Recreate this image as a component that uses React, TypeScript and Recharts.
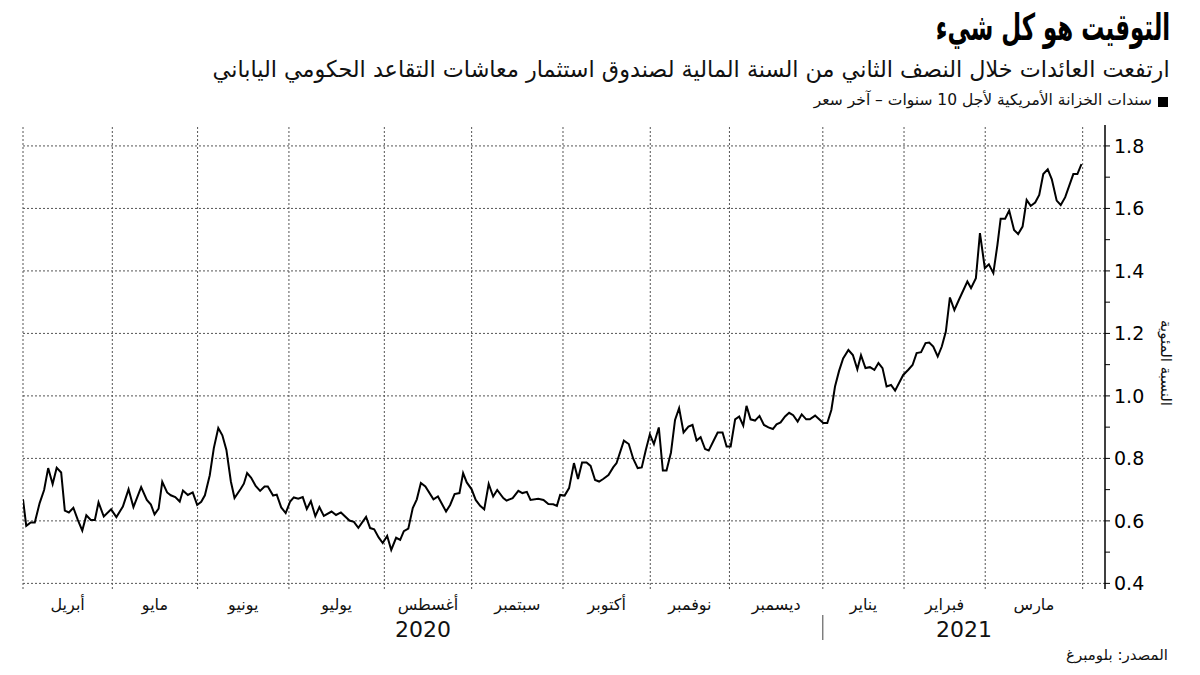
import { LineChart, Line, XAxis, YAxis, CartesianGrid, ReferenceLine } from 'recharts'

// x = weekday index counted from 1 April 2020
const monthStarts = [0, 22, 43, 65.5, 89, 110.5, 133, 154.5, 174, 197, 217, 237, 261]
const monthNames = ['أبريل', 'مايو', 'يونيو', 'يوليو', 'أغسطس', 'سبتمبر', 'أكتوبر', 'نوفمبر', 'ديسمبر', 'يناير', 'فبراير', 'مارس']
const yearLabels = ['2020', '2021']
const yearSplit = 197
const xEnd = 266.5

const yTicks = [0.4, 0.6, 0.8, 1.0, 1.2, 1.4, 1.6, 1.8]
const yMinorTicks = [0.5, 0.7, 0.9, 1.1, 1.3, 1.5, 1.7]

const dayIdx = [
  0, 0.8, 1.9, 2.9, 4.1, 5.2, 6.2, 7.3, 8.3, 9.4, 10.3, 11.3, 12.4, 13.5, 14.6, 15.6, 16.7, 17.7, 18.6, 19.9,
  21.7, 23.0, 24.6, 26.0, 27.2, 29.1, 30.5, 31.5, 32.4, 33.4, 34.3, 35.5, 36.4, 37.5, 38.6, 39.4, 40.6, 41.8, 42.9, 43.9,
  44.8, 46.0, 47.0, 48.1, 49.1, 50.1, 51.2, 52.1, 53.6, 54.4, 55.2, 56.2, 57.3, 58.4, 59.5, 60.3, 61.6, 62.5, 63.6, 64.7,
  65.8, 66.7, 67.8, 68.9, 69.9, 70.9, 72.0, 73.0, 74.1, 76.0, 77.1, 78.3, 80.4, 81.5, 82.6, 84.5, 85.5, 86.5, 87.6, 88.6,
  89.7, 90.7, 91.9, 92.9, 93.8, 94.9, 96.0, 97.0, 98.0, 99.1, 101.1, 102.2, 104.2, 105.2, 106.3, 107.5, 108.4, 109.3, 110.5, 111.5,
  112.6, 113.6, 114.7, 115.8, 116.8, 118.3, 119.1, 120.6, 122.0, 123.0, 124.1, 125.0, 126.9, 128.2, 129.4, 130.6, 131.5, 132.3, 133.4, 134.5,
  135.7, 136.7, 137.7, 138.8, 139.8, 140.9, 141.9, 142.9, 144.2, 145.4, 146.2, 148.0, 149.2, 150.3, 151.4, 152.4, 153.4, 154.4, 155.4, 156.6,
  157.6, 158.5, 159.6, 160.6, 161.6, 162.7, 163.9, 164.9, 165.9, 166.9, 168.0, 168.9, 170.0, 171.1, 172.3, 173.3, 174.3, 175.4, 176.4, 177.4,
  178.2, 179.2, 180.3, 181.4, 182.5, 183.6, 184.7, 185.6, 186.6, 187.7, 188.7, 189.7, 190.8, 191.8, 192.9, 193.8, 195.1, 196.1, 197.1, 198.1,
  199.1, 200.0, 201.0, 202.0, 203.3, 204.4, 205.5, 206.4, 207.5, 208.6, 209.7, 210.7, 211.7, 212.7, 213.8, 214.8, 216.8, 218.0, 219.1, 220.1,
  221.2, 222.3, 223.2, 224.2, 225.3, 226.3, 227.3, 228.3, 229.4, 230.5, 232.6, 233.5, 234.7, 235.7, 236.9, 237.9, 239.0, 240.0, 240.8, 241.9,
  242.9, 244.1, 245.1, 246.2, 247.2, 248.2, 249.3, 250.3, 251.3, 252.4, 253.4, 254.6, 255.6, 256.7, 258.7, 259.7, 260.7,
]

const yields = [
  0.669, 0.584, 0.595, 0.595, 0.657, 0.699, 0.769, 0.718, 0.770, 0.755, 0.633, 0.627, 0.642, 0.603, 0.569, 0.618, 0.603, 0.603, 0.659, 0.614,
  0.637, 0.612, 0.646, 0.701, 0.644, 0.708, 0.667, 0.652, 0.621, 0.639, 0.725, 0.691, 0.682, 0.676, 0.662, 0.697, 0.683, 0.691, 0.651, 0.661,
  0.682, 0.746, 0.833, 0.897, 0.874, 0.827, 0.726, 0.673, 0.702, 0.719, 0.753, 0.738, 0.712, 0.696, 0.710, 0.710, 0.681, 0.684, 0.643, 0.625,
  0.662, 0.675, 0.671, 0.676, 0.638, 0.663, 0.615, 0.644, 0.616, 0.630, 0.619, 0.627, 0.601, 0.597, 0.578, 0.613, 0.577, 0.573, 0.547, 0.529,
  0.552, 0.507, 0.546, 0.539, 0.567, 0.575, 0.641, 0.669, 0.721, 0.710, 0.669, 0.678, 0.630, 0.651, 0.686, 0.689, 0.753, 0.723, 0.701, 0.667,
  0.648, 0.637, 0.718, 0.678, 0.699, 0.673, 0.665, 0.673, 0.696, 0.689, 0.693, 0.667, 0.671, 0.667, 0.654, 0.653, 0.648, 0.683, 0.681, 0.705,
  0.785, 0.734, 0.787, 0.787, 0.776, 0.731, 0.726, 0.734, 0.747, 0.772, 0.785, 0.857, 0.846, 0.799, 0.769, 0.771, 0.827, 0.877, 0.846, 0.899,
  0.761, 0.761, 0.819, 0.923, 0.961, 0.883, 0.902, 0.907, 0.857, 0.868, 0.830, 0.825, 0.854, 0.883, 0.883, 0.838, 0.838, 0.925, 0.934, 0.905,
  0.968, 0.925, 0.921, 0.936, 0.907, 0.899, 0.894, 0.909, 0.915, 0.934, 0.946, 0.938, 0.918, 0.941, 0.925, 0.925, 0.937, 0.925, 0.913, 0.913,
  0.955, 1.030, 1.080, 1.120, 1.147, 1.131, 1.085, 1.130, 1.089, 1.092, 1.083, 1.105, 1.089, 1.030, 1.035, 1.017, 1.067, 1.083, 1.099, 1.137,
  1.140, 1.169, 1.171, 1.158, 1.126, 1.158, 1.206, 1.315, 1.275, 1.307, 1.366, 1.345, 1.377, 1.521, 1.409, 1.421, 1.393, 1.483, 1.567, 1.567,
  1.593, 1.531, 1.518, 1.542, 1.627, 1.608, 1.619, 1.643, 1.710, 1.725, 1.693, 1.625, 1.611, 1.636, 1.710, 1.710, 1.742,
]

const data = dayIdx.map((d, i) => ({ d, v: yields[i] }))

const monthMids = monthStarts.slice(0, -1).map((s, i) => (s + monthStarts[i + 1]) / 2)
const yearTicks = [yearSplit / 2, yearSplit, (yearSplit + xEnd) / 2]
const allYTicks = [...yTicks, ...yMinorTicks].sort((a, b) => a - b)

const arFont = '"DejaVu Sans", sans-serif'

function YearTick(props: any) {
  const { x, y, payload } = props
  if (payload.value === yearSplit) {
    return <line x1={x} x2={x} y1={y - 4} y2={y + 21} stroke="#444" strokeWidth={1} />
  }
  const label = payload.value < yearSplit ? yearLabels[0] : yearLabels[1]
  return (
    <text x={x} y={y + 18} textAnchor="middle" fontSize={22} fontFamily={arFont} fill="#111">
      {label}
    </text>
  )
}

const NoLabel = () => <g />

export default function App() {
  return (
    <div style={{ position: 'absolute', left: 0, top: 0, width: 1200, height: 675, background: '#fff', fontFamily: arFont }}>
      <div
        style={{
          position: 'absolute', right: 30, top: 6, direction: 'rtl', fontSize: 37, fontWeight: 'bold', color: '#000',
          whiteSpace: 'nowrap', transform: 'scaleX(0.62)', transformOrigin: 'right center',
        }}
      >
        التوقيت هو كل شيء
      </div>
      <div
        style={{
          position: 'absolute', right: 30, top: 56, direction: 'rtl', fontSize: 23, color: '#111', whiteSpace: 'nowrap',
          transform: 'scaleX(0.97)', transformOrigin: 'right center',
        }}
      >
        ارتفعت العائدات خلال النصف الثاني من السنة المالية لصندوق استثمار معاشات التقاعد الحكومي الياباني
      </div>
      <div style={{ position: 'absolute', right: 32, top: 97, width: 10, height: 10, background: '#000' }} />
      <div style={{ position: 'absolute', right: 48, top: 91, direction: 'rtl', fontSize: 15.5, color: '#111', whiteSpace: 'nowrap' }}>
        سندات الخزانة الأمريكية لأجل 10 سنوات – آخر سعر
      </div>
      <div
        style={{
          position: 'absolute', left: 1166, top: 363, direction: 'rtl', fontSize: 15, color: '#111', whiteSpace: 'nowrap',
          transform: 'translate(-50%, -50%) rotate(90deg)',
        }}
      >
        النسبة المئوية
      </div>
      <div style={{ position: 'absolute', right: 32, top: 646, direction: 'rtl', fontSize: 15, color: '#111', whiteSpace: 'nowrap' }}>
        المصدر: بلومبرغ
      </div>

      <div style={{ position: 'absolute', left: 0, top: 0 }}>
        <LineChart width={1200} height={675} data={data} margin={{ top: 125, right: 35, bottom: 26, left: 23 }}>
          <CartesianGrid stroke="#555" strokeDasharray="2 2" horizontalValues={yTicks} vertical={false} />
          {monthStarts.map(m => (
            <ReferenceLine key={m} x={m} xAxisId={0} yAxisId={0} stroke="#555" strokeDasharray="2 2" ifOverflow="extendDomain" />
          ))}
          <XAxis
            xAxisId={0}
            dataKey="d"
            type="number"
            domain={[0, xEnd]}
            allowDataOverflow
            ticks={monthStarts}
            interval={0}
            height={0}
            tick={<NoLabel />}
            tickSize={6}
            tickLine={{ stroke: '#000' }}
            axisLine={{ stroke: '#000', strokeWidth: 1.5 }}
          />
          <XAxis
            xAxisId="months"
            dataKey="d"
            type="number"
            domain={[0, xEnd]}
            allowDataOverflow
            ticks={monthMids}
            interval={0}
            height={30}
            axisLine={false}
            tickLine={false}
            tickSize={6}
            tickMargin={4}
            tickFormatter={(_v: number, i: number) => monthNames[i]}
            tick={{ fontSize: 16, fontFamily: arFont, fill: '#111' }}
          />
          <XAxis
            xAxisId="years"
            dataKey="d"
            type="number"
            domain={[0, xEnd]}
            allowDataOverflow
            ticks={yearTicks}
            interval={0}
            height={30}
            axisLine={false}
            tickLine={false}
            tickSize={0}
            tickMargin={0}
            tick={<YearTick />}
          />
          <YAxis
            yAxisId={0}
            orientation="right"
            type="number"
            domain={[0.382, 1.867]}
            allowDataOverflow
            ticks={allYTicks}
            interval={0}
            width={60}
            tickSize={5}
            tickMargin={4}
            tickFormatter={(v: number) => (yTicks.includes(v) ? v.toFixed(1) : '')}
            axisLine={{ stroke: '#000', strokeWidth: 1.5 }}
            tickLine={{ stroke: '#000' }}
            tick={{ fontSize: 19, fontFamily: '"DejaVu Sans", sans-serif', fill: '#000', textAnchor: 'start' }}
          />
          <Line
            xAxisId={0}
            yAxisId={0}
            type="linear"
            dataKey="v"
            stroke="#000"
            strokeWidth={2}
            dot={false}
            isAnimationActive={false}
          />
        </LineChart>
      </div>
    </div>
  )
}
